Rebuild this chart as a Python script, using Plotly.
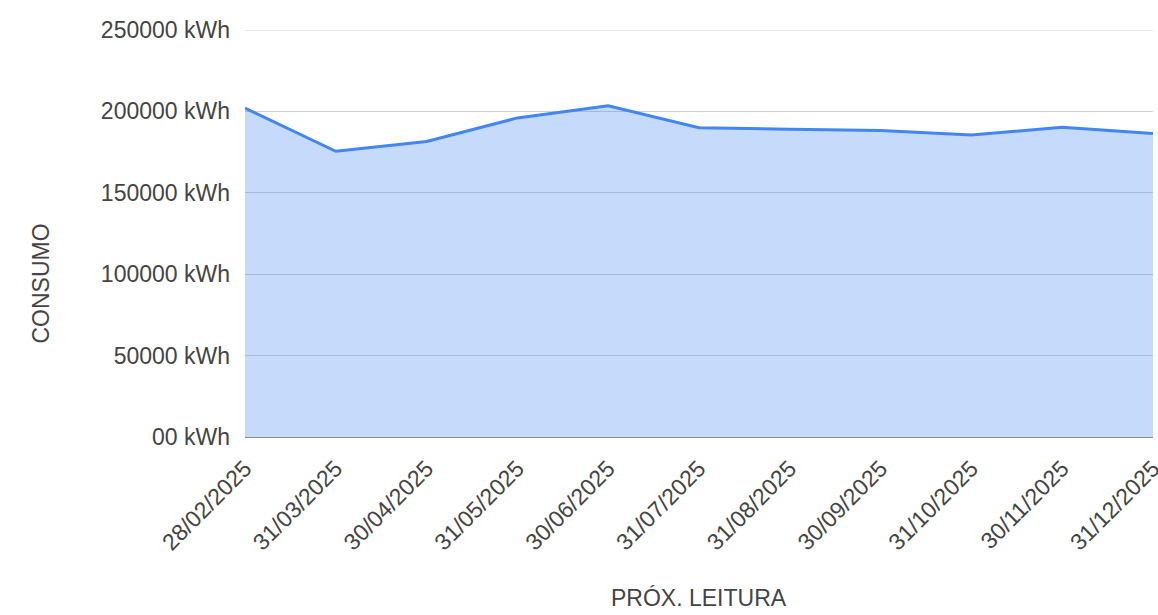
import plotly.graph_objects as go

# Monthly meter readings (next reading date) and energy consumption
leituras = ["28/02/2025", "31/03/2025", "30/04/2025", "31/05/2025", "30/06/2025",
            "31/07/2025", "31/08/2025", "30/09/2025", "31/10/2025", "30/11/2025",
            "31/12/2025"]
consumo_kwh = [202000, 175500, 181500, 196000, 203500,
               190000, 189000, 188200, 185500, 190300, 186500]

# Y axis ticks
y_tick_vals = [0, 50000, 100000, 150000, 200000, 250000]
y_tick_text = ["00 kWh", "50000 kWh", "100000 kWh", "150000 kWh", "200000 kWh", "250000 kWh"]

FONT = "Liberation Sans, Arial, sans-serif"
LABEL = "#444444"
FS = 23
GRID = "#d0d0d0"

fig = go.Figure()
fig.add_trace(go.Scatter(
    x=leituras,
    y=consumo_kwh,
    mode="lines",
    line=dict(color="#4285f4", width=3),
    fill="tozeroy",
    fillcolor="rgba(66,133,244,0.3)",
    hoverinfo="x+y",
))

# top gridline sits on the edge of the plotting area, draw it explicitly
fig.add_shape(type="line", xref="paper", yref="y", x0=0, x1=1,
              y0=y_tick_vals[-1], y1=y_tick_vals[-1],
              line=dict(color=GRID, width=1), layer="below")

fig.update_layout(
    width=1158,
    height=615,
    margin=dict(l=245, r=5, t=30, b=178),
    paper_bgcolor="white",
    plot_bgcolor="white",
    showlegend=False,
    font=dict(family=FONT, size=FS, color=LABEL),
    xaxis=dict(
        type="category",
        range=[0, len(leituras) - 1],
        tickangle=-45,
        showgrid=False,
        zeroline=False,
        showline=False,
        ticks="outside",
        ticklen=8,
        tickcolor="rgba(0,0,0,0)",
        tickfont=dict(family=FONT, size=FS, color=LABEL),
        automargin=False,
    ),
    yaxis=dict(
        range=[0, 250000],
        tickvals=y_tick_vals,
        ticktext=y_tick_text,
        showgrid=True,
        gridcolor=GRID,
        gridwidth=1,
        zeroline=True,
        zerolinecolor="#8a8a8a",
        zerolinewidth=1,
        showline=False,
        ticks="",
        ticklabelstandoff=14,
        tickfont=dict(family=FONT, size=FS, color=LABEL),
        automargin=False,
    ),
    annotations=[
        dict(text="PRÓX. LEITURA", xref="paper", yref="paper", x=0.5, y=0,
             yshift=-161, showarrow=False, xanchor="center", yanchor="middle",
             font=dict(family=FONT, size=FS, color=LABEL)),
        dict(text="CONSUMO", xref="paper", yref="paper", x=0, y=0.5,
             xshift=-205, yshift=-50, textangle=-90, showarrow=False,
             xanchor="center", yanchor="middle",
             font=dict(family=FONT, size=FS, color=LABEL)),
    ],
)

fig.write_html("out.html")
